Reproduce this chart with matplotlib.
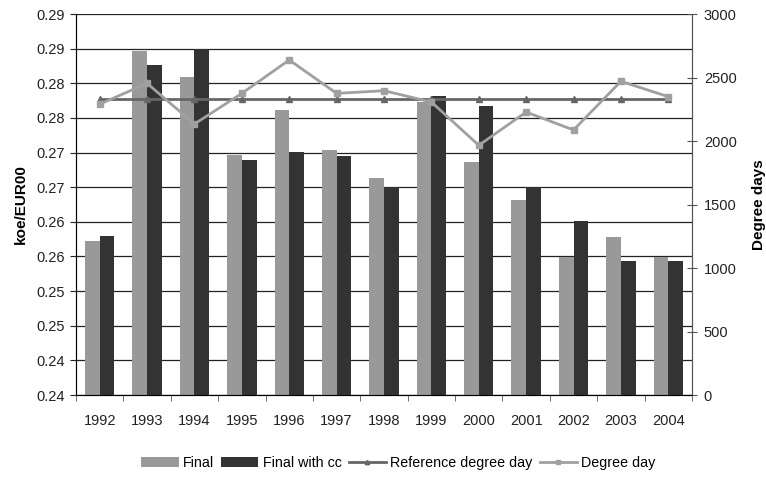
import matplotlib.pyplot as plt
import numpy as np

plt.rcParams['font.family'] = ['Liberation Sans', 'DejaVu Sans']

# data
years = ['1992', '1993', '1994', '1995', '1996', '1997', '1998',
         '1999', '2000', '2001', '2002', '2003', '2004']
final = [0.2622, 0.2896, 0.2859, 0.2746, 0.2811, 0.2754, 0.2713,
         0.2823, 0.2736, 0.2681, 0.2599, 0.2628, 0.2599]
final_cc = [0.2629, 0.2876, 0.2899, 0.2739, 0.2751, 0.2745, 0.2700,
            0.2831, 0.2817, 0.2700, 0.2651, 0.2593, 0.2593]
ref_degree_day = [2330] * 13
degree_day = [2290, 2454, 2134, 2375, 2638, 2375, 2396,
              2307, 1966, 2228, 2087, 2470, 2349]

left_ticks = [0.240, 0.245, 0.250, 0.255, 0.260, 0.265,
              0.270, 0.275, 0.280, 0.285, 0.290, 0.295]
left_labels = ['0.24', '0.24', '0.25', '0.25', '0.26', '0.26',
               '0.27', '0.27', '0.28', '0.28', '0.29', '0.29']
right_ticks = [0, 500, 1000, 1500, 2000, 2500, 3000]

fig = plt.figure(figsize=(7.66, 4.78), dpi=100)
ax = fig.add_axes([0.0992, 0.1736, 0.8042, 0.7971])
x = np.arange(len(years))
w = 0.31

ax.bar(x - w / 2, final, w, color='#999999', label='Final', zorder=2)
ax.bar(x + w / 2, final_cc, w, color='#333333', label='Final with cc', zorder=2)

ax.set_ylim(0.240, 0.295)
ax.set_yticks(left_ticks)
ax.set_yticklabels(left_labels)
ax.yaxis.grid(True, color='#222222', linewidth=0.9)
ax.set_axisbelow(True)
ax.set_xlim(-0.5, len(years) - 0.5)
ax.set_xticks(x)
ax.set_xticklabels(years)
ax.set_xticks(np.arange(-0.5, len(years), 1), minor=True)
ax.tick_params(axis='x', which='major', length=0, pad=14)
ax.tick_params(axis='x', which='minor', length=4, color='#555555')
ax.tick_params(axis='y', length=4, color='#555555', pad=4)
ax.tick_params(labelsize=10.5, colors='#222222')
ax.set_ylabel('koe/EUR00', fontsize=11, fontweight='bold', labelpad=6)
ax.spines['top'].set_visible(False)
for s in ['left', 'bottom', 'right']:
    ax.spines[s].set_color('#555555')

ax2 = ax.twinx()
ax2.plot(x, ref_degree_day, color='#666666', linewidth=2, marker='^',
         markersize=4.5, label='Reference degree day', zorder=3)
ax2.plot(x, degree_day, color='#a0a0a0', linewidth=2, marker='s',
         markersize=5, label='Degree day', zorder=4)
ax2.set_ylim(0, 3000)
ax2.set_yticks(right_ticks)
ax2.tick_params(axis='y', direction='inout', length=7, labelsize=10.5,
                color='#555555', labelcolor='#222222', pad=5)
ax2.set_ylabel('Degree days', fontsize=11, fontweight='bold', labelpad=11)
ax2.spines['top'].set_visible(False)
ax2.spines['right'].set_color('#555555')

h1, l1 = ax.get_legend_handles_labels()
h2, l2 = ax2.get_legend_handles_labels()
fig.legend(h1 + h2, l1 + l2, loc='center', bbox_to_anchor=(0.52, 0.031),
           ncol=4, frameon=False, fontsize=10.3, handlelength=2.6,
           handletextpad=0.3, columnspacing=0.5, markerscale=0.7)

plt.savefig('out.png', dpi=100)
